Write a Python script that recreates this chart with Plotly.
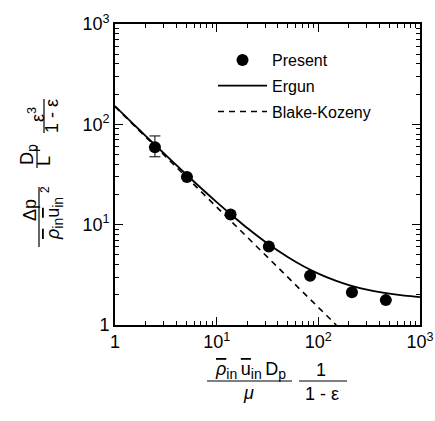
import plotly.graph_objects as go

# ---- data ----
present_x = [2.47, 5.1, 13.7, 32.6, 83, 214, 461]
present_y = [59.2, 29.9, 12.6, 6.06, 3.1, 2.12, 1.77]
present_err_plus = [17.4, 0, 0, 0, 0, 0, 0]
present_err_minus = [11.7, 0, 0, 0, 0, 0, 0]

ergun_x = [1, 1.5, 2, 3, 5, 7, 10, 15, 20, 30, 50, 70, 100, 150, 200, 300, 500, 700, 1000]
ergun_y = [152, 101.8, 76.8, 51.8, 31.8, 23.2, 16.8, 11.8, 9.25, 6.75, 4.75, 3.89, 3.25, 2.75, 2.5, 2.25, 2.05, 1.96, 1.9]

bk_x = [1, 150]
bk_y = [150, 1]

tick_vals = [1, 10, 100, 1000]
tick_text = ["1", "10<sup>1</sup>", "10<sup>2</sup>", "10<sup>3</sup>"]

FONT = "Liberation Sans, Arial, sans-serif"
W, H = 435, 421
L, R, T, B = 115, 15, 24, 96
PW, PH = W - L - R, H - T - B


def px(x):
    return (x - L) / PW


def py(y):
    return (H - B - y) / PH


fig = go.Figure()
fig.add_trace(go.Scatter(
    x=present_x, y=present_y, mode="markers", name="Present",
    legendgroup="a",
    marker=dict(color="black", size=12),
    error_y=dict(type="data", symmetric=False, array=present_err_plus,
                 arrayminus=present_err_minus, color="black", thickness=1,
                 width=5.5),
))
fig.add_trace(go.Scatter(
    x=ergun_x, y=ergun_y, mode="lines", name="Ergun", legendgroup="b",
    line=dict(color="black", width=1.8, shape="spline"),
))
fig.add_trace(go.Scatter(
    x=bk_x, y=bk_y, mode="lines", name="Blake-Kozeny", legendgroup="c",
    line=dict(color="black", width=1.6, dash="6px,5px"),
))

axis_common = dict(
    type="log", range=[0, 3], tickvals=tick_vals, ticktext=tick_text,
    showgrid=False, zeroline=False, showline=True, linecolor="black",
    linewidth=1.6, mirror="ticks", ticks="inside", ticklen=8,
    tickwidth=1.2, tickcolor="black", automargin=False,
    tickfont=dict(family=FONT, size=18, color="black"),
    minor=dict(ticks="inside", ticklen=4, tickwidth=1, tickcolor="black",
               dtick="D1", showgrid=False),
)
fig.update_xaxes(**axis_common)
fig.update_yaxes(**axis_common)

annotations = []
shapes = []


def txt(x, y, s, size=18, angle=0):
    annotations.append(dict(
        x=px(x), y=py(y), xref="paper", yref="paper", text=s,
        showarrow=False, xanchor="center", yanchor="middle",
        textangle=angle, font=dict(family=FONT, size=size, color="black"),
    ))


def hline(x0, x1, y):
    shapes.append(dict(type="line", xref="paper", yref="paper",
                       x0=px(x0), x1=px(x1), y0=py(y), y1=py(y),
                       line=dict(color="black", width=1.2)))


def vline(x, y0, y1):
    shapes.append(dict(type="line", xref="paper", yref="paper",
                       x0=px(x), x1=px(x), y0=py(y0), y1=py(y1),
                       line=dict(color="black", width=1.2)))


OV = '<span style="text-decoration:overline">'
SUB = '<sub><span style="font-size:14px">'
SUBE = '</span></sub>'
NB = "\u2009"
# x-axis title
txt(250, 370, OV + "<i>ρ</i></span>" + SUB + "in" + SUBE + NB + OV + "u</span>"
    + SUB + "in" + SUBE + NB + "D" + SUB + "p" + SUBE)
hline(207, 292, 381)
txt(248, 393, "<i>μ</i>")
txt(321, 370, "1")
hline(299, 347, 381)
txt(322, 394, "1\u00a0-\u00a0ε")

# y-axis title (rotated)
txt(30, 210, "Δp", angle=-90)
vline(39, 187, 247)
txt(54, 219, OV + "<i>ρ</i></span>" + SUB + "in" + SUBE + OV + "u</span>"
    + SUB + "in" + SUBE, angle=-90)
txt(45, 190, "2", size=12, angle=-90)
txt(28, 155, "D" + SUB + "p" + SUBE, angle=-90)
vline(37, 146, 168)
txt(44, 161, "L", angle=-90)
txt(36, 115, "ε<sup>3</sup>", angle=-90)
vline(44, 99, 133)
txt(52, 116, "1\u00a0-\u00a0ε", angle=-90)

fig.update_layout(
    width=W, height=H, margin=dict(l=L, r=R, t=T, b=B),
    paper_bgcolor="white", plot_bgcolor="white",
    font=dict(family=FONT, color="black"),
    showlegend=True,
    legend=dict(x=px(213), y=py(43), xanchor="left", yanchor="top",
                bgcolor="rgba(0,0,0,0)", font=dict(family=FONT, size=16),
                tracegroupgap=2, itemwidth=49),
    annotations=annotations, shapes=shapes,
)

fig.write_html("out.html",
               config={"displayModeBar": False},
               post_script="document.body.style.margin='0';"
                           "document.body.style.overflow='hidden';")
